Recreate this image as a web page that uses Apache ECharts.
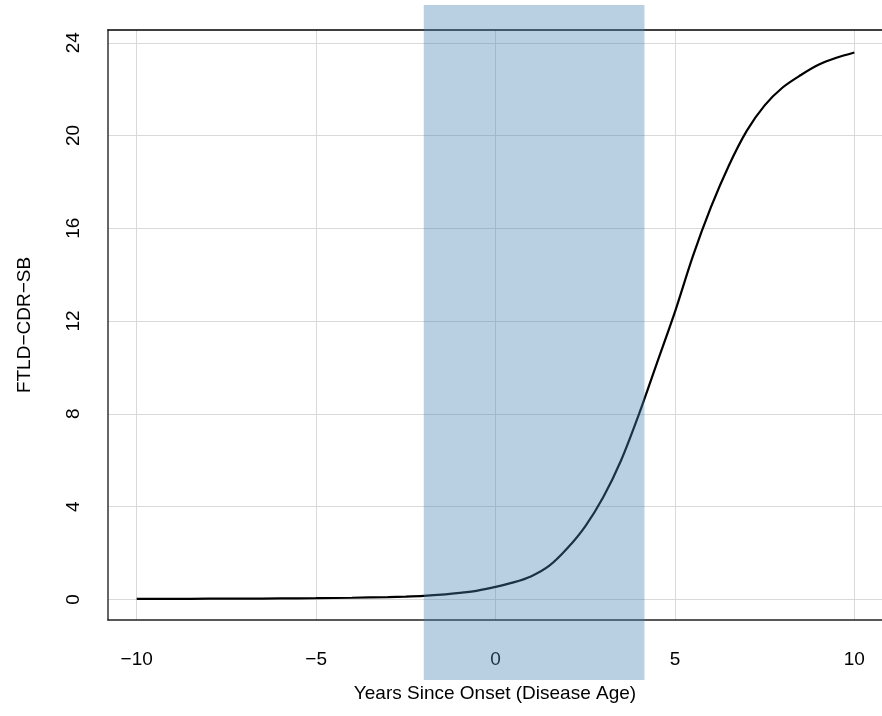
<!DOCTYPE html>
<html>
<head>
<meta charset="utf-8">
<script src="https://cdn.jsdelivr.net/npm/echarts@6/dist/echarts.min.js"></script>
<style>html,body{margin:0;padding:0;background:#fff}#c{width:882px;height:716px}</style>
</head>
<body>
<div id="c"></div>
<script>
// Years since onset (x) and FTLD-CDR-SB (y)
const years = [-10, -9, -8, -7, -6, -5, -4, -3, -2.5, -2, -1.5, -1, -0.5, 0, 0.5, 1, 1.5, 2, 2.5, 3, 3.5, 4, 4.5, 5, 5.5, 6, 6.5, 7, 7.5, 8, 8.5, 9, 9.5, 10];
const score = [0.02, 0.02, 0.03, 0.03, 0.04, 0.05, 0.07, 0.10, 0.12, 0.15, 0.20, 0.28, 0.38, 0.54, 0.73, 1.0, 1.45, 2.2, 3.15, 4.4, 6.0, 8.0, 10.2, 12.4, 14.8, 16.9, 18.7, 20.2, 21.3, 22.07, 22.6, 23.05, 23.35, 23.58];
// Shaded band (years since onset)
const bandRange = [-2.0, 4.15];
const xTicks = [-10, -5, 0, 5, 10];
const yTicks = [0, 4, 8, 12, 16, 20, 24];
const xName = 'Years Since Onset (Disease Age)';
const yName = 'FTLD\u2212CDR\u2212SB';

const font = 'Liberation Sans, Arial, sans-serif';
const chart = echarts.init(document.getElementById('c'), null, {renderer: 'canvas'});
const fmt = v => (v < 0 ? '\u2212' + Math.abs(v) : String(v));
chart.setOption({
  animation: false,
  backgroundColor: '#ffffff',
  grid: {left: 108, top: 30, right: 0, bottom: 96, containLabel: false},
  xAxis: [{
    type: 'value', min: -10.8, max: 10.77,
    name: xName, nameLocation: 'middle', nameGap: 64,
    nameTextStyle: {fontFamily: font, fontSize: 19, color: '#000'},
    axisLine: {show: true, onZero: false, lineStyle: {color: '#222', width: 1.5}},
    axisTick: {show: false, customValues: xTicks},
    axisLabel: {customValues: xTicks, formatter: fmt, margin: 30, fontFamily: font, fontSize: 19, color: '#000'},
    splitLine: {show: true, lineStyle: {color: '#d9d9d9', width: 1}}
  }, {
    type: 'value', position: 'top', min: -10.8, max: 10.77,
    axisLine: {show: true, onZero: false, lineStyle: {color: '#000', width: 1.5}},
    axisTick: {show: false}, axisLabel: {show: false}, splitLine: {show: false}
  }],
  yAxis: {
    type: 'value', min: -0.89, max: 24.55,
    name: yName, nameLocation: 'middle', nameGap: 74, nameRotate: 90,
    nameTextStyle: {fontFamily: font, fontSize: 19, color: '#000'},
    axisLine: {show: true, onZero: false, lineStyle: {color: '#333', width: 1.5}},
    axisTick: {show: false, customValues: yTicks},
    axisLabel: {customValues: yTicks, rotate: 90, margin: 25, fontFamily: font, fontSize: 19, color: '#000'},
    splitLine: {show: true, lineStyle: {color: '#d9d9d9', width: 1}}
  },
  series: [{
    type: 'line', xAxisIndex: 0,
    data: years.map((x, i) => [x, score[i]]),
    smooth: 0.3, showSymbol: false, symbol: 'none',
    lineStyle: {color: '#000', width: 2.2}, z: 2
  }, {
    type: 'custom', xAxisIndex: 0, z: 5, clip: false, silent: true,
    data: [[bandRange[0], bandRange[1]]],
    encode: {x: [0, 1]},
    renderItem: function (params, api) {
      const cs = params.coordSys;
      const a = api.coord([api.value(0), 0]);
      const b = api.coord([api.value(1), 0]);
      return {
        type: 'rect',
        shape: {x: a[0], y: cs.y - 25, width: b[0] - a[0], height: cs.height + 85},
        style: {fill: 'rgba(70,130,180,0.38)'}
      };
    }
  }]
});
</script>
</body>
</html>
